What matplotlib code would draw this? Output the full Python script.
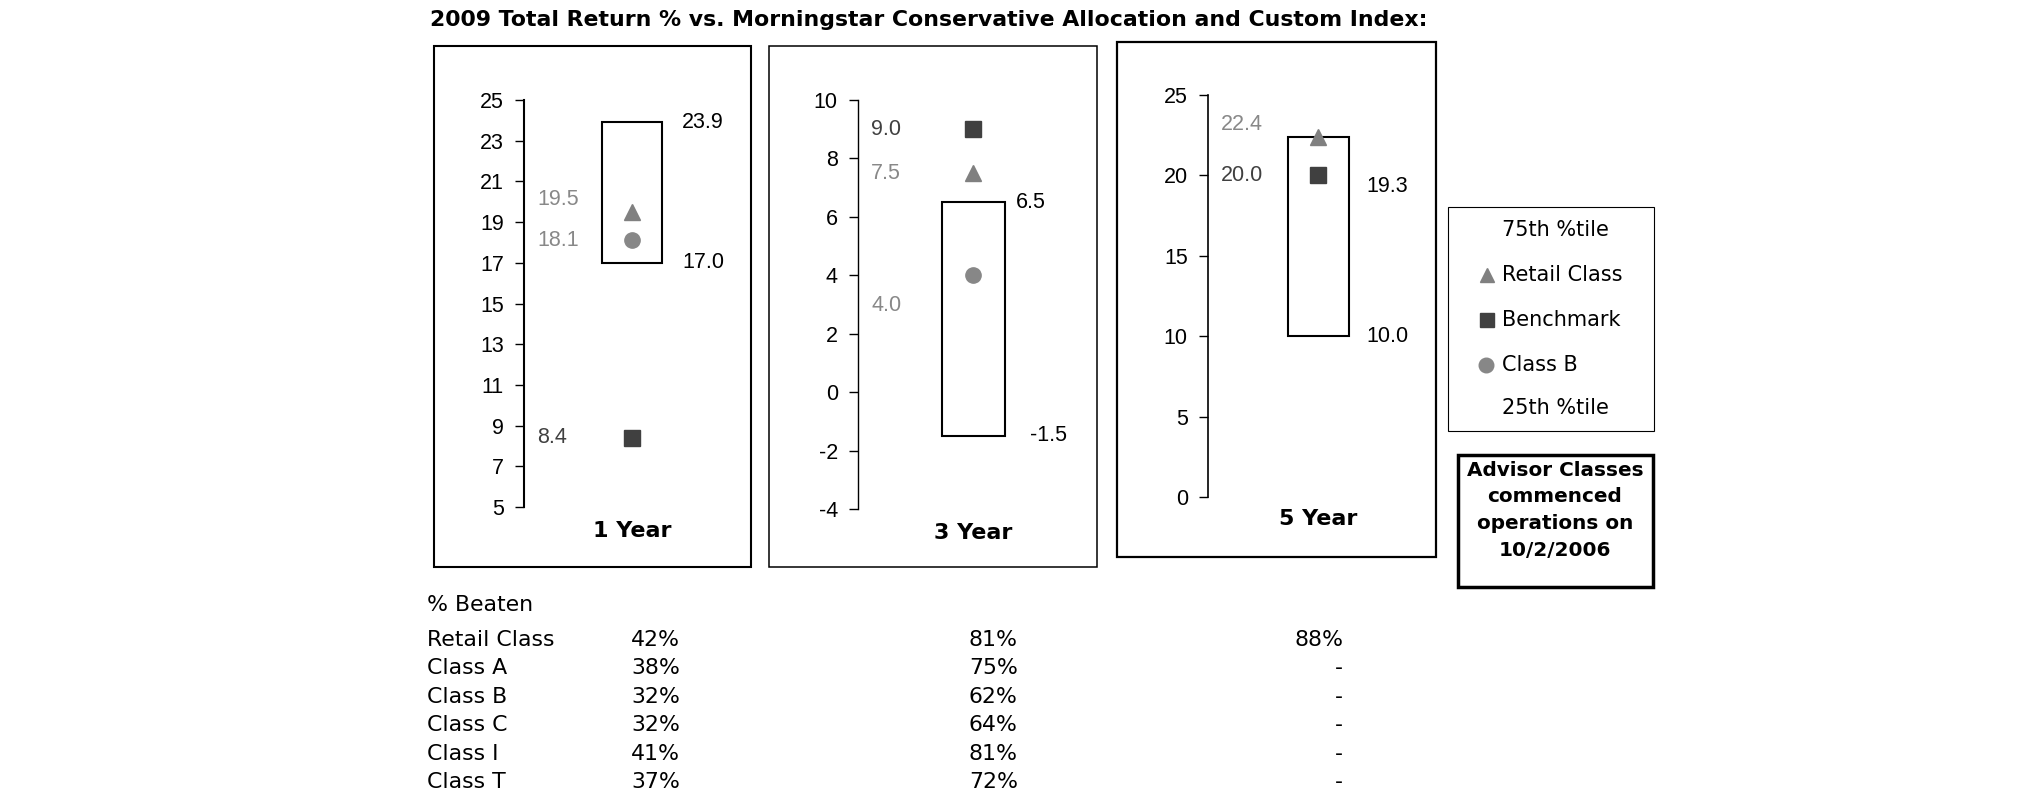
import numpy as np
import matplotlib
matplotlib.use('Agg')
import matplotlib.pyplot as plt
from matplotlib.patches import Rectangle

# data
periods = ['1 Year', '3 Year', '5 Year']
pct75 = [23.9, 6.5, 19.3]            # 75th percentile labels
box_top = [23.9, 6.5, 22.4]          # top edge of the box as drawn in the original
pct25 = [17.0, -1.5, 10.0]
retail = [19.5, 7.5, 22.4]
benchmark = [8.4, 9.0, 20.0]
class_b = [18.1, 4.0, None]

y_ranges = [(5, 25), (-4, 10), (0, 25)]
y_steps = [2, 2, 5]

legend_items = ['75th %tile', 'Retail Class', 'Benchmark', 'Class B', '25th %tile']
advisor_note = ['Advisor Classes', 'commenced', 'operations on', '10/2/2006']

table_rows = ['Retail Class', 'Class A', 'Class B', 'Class C', 'Class I', 'Class T']
beaten_1y = ['42%', '38%', '32%', '32%', '41%', '37%']
beaten_3y = ['81%', '75%', '62%', '64%', '81%', '72%']
beaten_5y = ['88%', '-', '-', '-', '-', '-']

title = '2009 Total Return % vs. Morningstar Conservative Allocation and Custom Index:'

# layout, in pixels of the 2025x806 picture
W, H = 2025, 806
spine_x = [524, 858, 1208]
top_px = [100, 100, 95]
bot_px = [507, 509, 497]
frames = [(434, 46, 751, 567), (769, 46, 1097, 567), (1117, 42, 1436, 557)]
frame_lw = [1.5, 1.1, 1.6]
spine_lw = [1.5, 1.0, 1.2]
box_cx = [108, 115, 110]
box_w = [60, 63, 61]
period_y = [531, 533, 519]
retail_dy = [-12, 0, -12]            # label nudges, + is down
classb_dy = [0, 30, 0]
p25_dx = [0, 14, 0]

tri_c, sq_c, dot_c = '#808080', '#404040', '#878787'

plt.rcParams['font.family'] = ['DejaVu Sans']
fig = plt.figure(figsize=(W / 100, H / 100), dpi=100)

ov = fig.add_axes([0, 0, 1, 1])      # overlay in pixel units
ov.set_xlim(0, W)
ov.set_ylim(H, 0)
ov.axis('off')

ov.text(430, 20, title, ha='left', va='center', fontsize=15.8, weight='bold')

for i in range(3):
    x0, y0, x1, y1 = frames[i]
    ov.add_patch(Rectangle((x0, y0), x1 - x0, y1 - y0, fill=False, ec='black', lw=frame_lw[i]))
    ov.text(spine_x[i] + box_cx[i], period_y[i], periods[i], ha='center', va='center',
            fontsize=16, weight='bold')

    ax = fig.add_axes([spine_x[i] / W, 1 - bot_px[i] / H, 220 / W, (bot_px[i] - top_px[i]) / H])
    ax.patch.set_visible(False)
    ax.set_xlim(0, 220)
    lo, hi = y_ranges[i]
    ax.set_ylim(lo, hi)
    for s in ['top', 'right', 'bottom']:
        ax.spines[s].set_visible(False)
    ax.spines['left'].set_linewidth(spine_lw[i])
    ticks = np.arange(lo, hi + 1, y_steps[i])
    ax.set_yticks(ticks, [str(t) for t in ticks])
    ax.set_xticks([])
    ax.tick_params(axis='y', direction='out', length=6.5, width=1, pad=8,
                   labelsize=15.5, labelfontfamily='Liberation Sans')

    cx = box_cx[i]
    ax.add_patch(Rectangle((cx - box_w[i] / 2, pct25[i]), box_w[i], box_top[i] - pct25[i],
                           fill=False, ec='black', lw=1.5))
    ax.plot(cx, retail[i], marker='^', ms=11, color=tri_c, ls='none', clip_on=False)
    ax.plot(cx, benchmark[i], marker='s', ms=11, color=sq_c, ls='none', clip_on=False)
    if class_b[i] is not None:
        ax.plot(cx, class_b[i], marker='o', ms=11, color=dot_c, ls='none', clip_on=False)

    lab = dict(textcoords='offset pixels', va='center', ha='left', fontsize=15.5,
               fontfamily='Liberation Sans')
    ax.annotate(f'{pct75[i]:.1f}', xy=(158, pct75[i]), xytext=(0, 0), color='black', **lab)
    ax.annotate(f'{pct25[i]:.1f}', xy=(158, pct25[i]), xytext=(p25_dx[i], 0), color='black', **lab)
    ax.annotate(f'{retail[i]:.1f}', xy=(13, retail[i]), xytext=(0, -retail_dy[i]), color='#888888', **lab)
    ax.annotate(f'{benchmark[i]:.1f}', xy=(13, benchmark[i]), xytext=(0, 0), color='#404040', **lab)
    if class_b[i] is not None:
        ax.annotate(f'{class_b[i]:.1f}', xy=(13, class_b[i]), xytext=(0, -classb_dy[i]),
                    color='#888888', **lab)

# legend box
ov.add_patch(Rectangle((1448, 207), 206, 224, fill=False, ec='black', lw=0.8))
leg_y = [230, 275, 320, 365, 408]
for k, name in enumerate(legend_items):
    ov.text(1502, leg_y[k], name, ha='left', va='center', fontsize=15)
ov.plot(1487, leg_y[1], marker='^', ms=10, color=tri_c, ls='none')
ov.plot(1487, leg_y[2], marker='s', ms=9.5, color=sq_c, ls='none')
ov.plot(1486, leg_y[3], marker='o', ms=10.5, color=dot_c, ls='none')

# advisor note
ov.add_patch(Rectangle((1458, 455), 195, 132, fill=False, ec='black', lw=2.5))
for k, line in enumerate(advisor_note):
    ov.text(1555, 470 + 26.7 * k, line, ha='center', va='center', fontsize=14.4, weight='bold')

# % beaten table
ov.text(427, 605, '% Beaten', ha='left', va='center', fontsize=15.8)
for k, row in enumerate(table_rows):
    y = 640 + 28.4 * k
    ov.text(427, y, row, ha='left', va='center', fontsize=15.8)
    ov.text(631, y, beaten_1y[k], ha='left', va='center', fontsize=15.8)
    ov.text(969, y, beaten_3y[k], ha='left', va='center', fontsize=15.8)
    ov.text(1343, y, beaten_5y[k], ha='right', va='center', fontsize=15.8)

fig.savefig('out.png', dpi=100)
